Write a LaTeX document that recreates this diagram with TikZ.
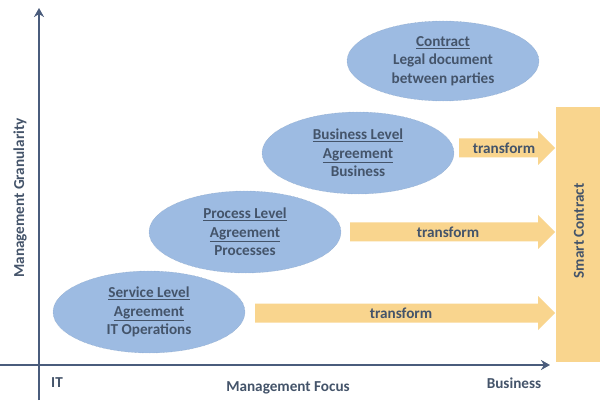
\documentclass[tikz,border=0pt]{standalone}
\usepackage{fontspec}
\setmainfont{Carlito}
\usetikzlibrary{arrows.meta}
\definecolor{txt}{HTML}{44546A}
\definecolor{ellfill}{HTML}{9DBBE2}
\definecolor{gold}{HTML}{F9D58E}
\definecolor{axis}{HTML}{4A5C7C}
\tikzset{
  ell/.style={ellipse, fill=ellfill, draw=ellfill!85!black, densely dotted, line width=0.4pt,
    minimum width=192pt, minimum height=82pt, text=txt, align=center, font=\fontsize{15.2}{18.5}\selectfont\bfseries, inner sep=0pt},
  lbl/.style={text=txt, font=\fontsize{15.2}{18}\selectfont\bfseries, inner sep=0pt},
  axisline/.style={line width=2.6pt, draw=axis, -{Stealth[length=9pt,width=10pt]}},
  arrowfill/.style={fill=gold},
}
\usetikzlibrary{shapes.geometric}
\newcommand\goldarrow[2]{%
  \fill[arrowfill] (#1,{#2-9.5}) -- (538,{#2-9.5}) -- (538,{#2-17}) -- (555,#2) -- (538,{#2+17}) -- (538,{#2+9.5}) -- (#1,{#2+9.5}) -- cycle;}
\begin{document}
\begin{tikzpicture}[x=1pt,y=-1pt]
\useasboundingbox[fill=white] (0,0) rectangle (600,406);
% axes
\coordinate (vb) at (39,400);
\coordinate (vt) at (39,8);
\coordinate (hl) at (0,365);
\coordinate (hr) at (550,365);
\draw[axisline] (vb) -- (vt);
\draw[axisline] (hl) -- (hr);
% smart contract bar
\node[fill=gold, minimum width=44pt, minimum height=255pt, inner sep=0pt, anchor=north west] (sc) at (556,107) {};
\node[lbl, rotate=90] (sclabel) at (579,231) {Smart Contract};
% arrows
\goldarrow{459}{148}
\goldarrow{350}{232}
\goldarrow{255}{313}
\node[lbl] (t1) at (504,148) {transform};
\node[lbl] (t2) at (448,232) {transform};
\node[lbl] (t3) at (401,313) {transform};
% ellipses
\node[ell] (sla) at (149,312) {\underline{Service Level}\\\underline{Agreement}\\IT Operations};
\node[ell] (pla) at (245,232) {\underline{Process Level}\\\underline{Agreement}\\Processes};
\node[ell] (bla) at (358,153) {\underline{Business Level}\\\underline{Agreement}\\Business};
\node[ell, minimum height=80pt] (con) at (443,61) {\underline{Contract}\\Legal document\\between parties};
% axis labels
\node[lbl, rotate=90] (gran) at (20,198) {Management Granularity};
\node[lbl] (focus) at (288,388) {Management Focus};
\node[lbl] (it) at (57,383) {IT};
\node[lbl] (bus) at (514,383) {Business};
\end{tikzpicture}
\end{document}
